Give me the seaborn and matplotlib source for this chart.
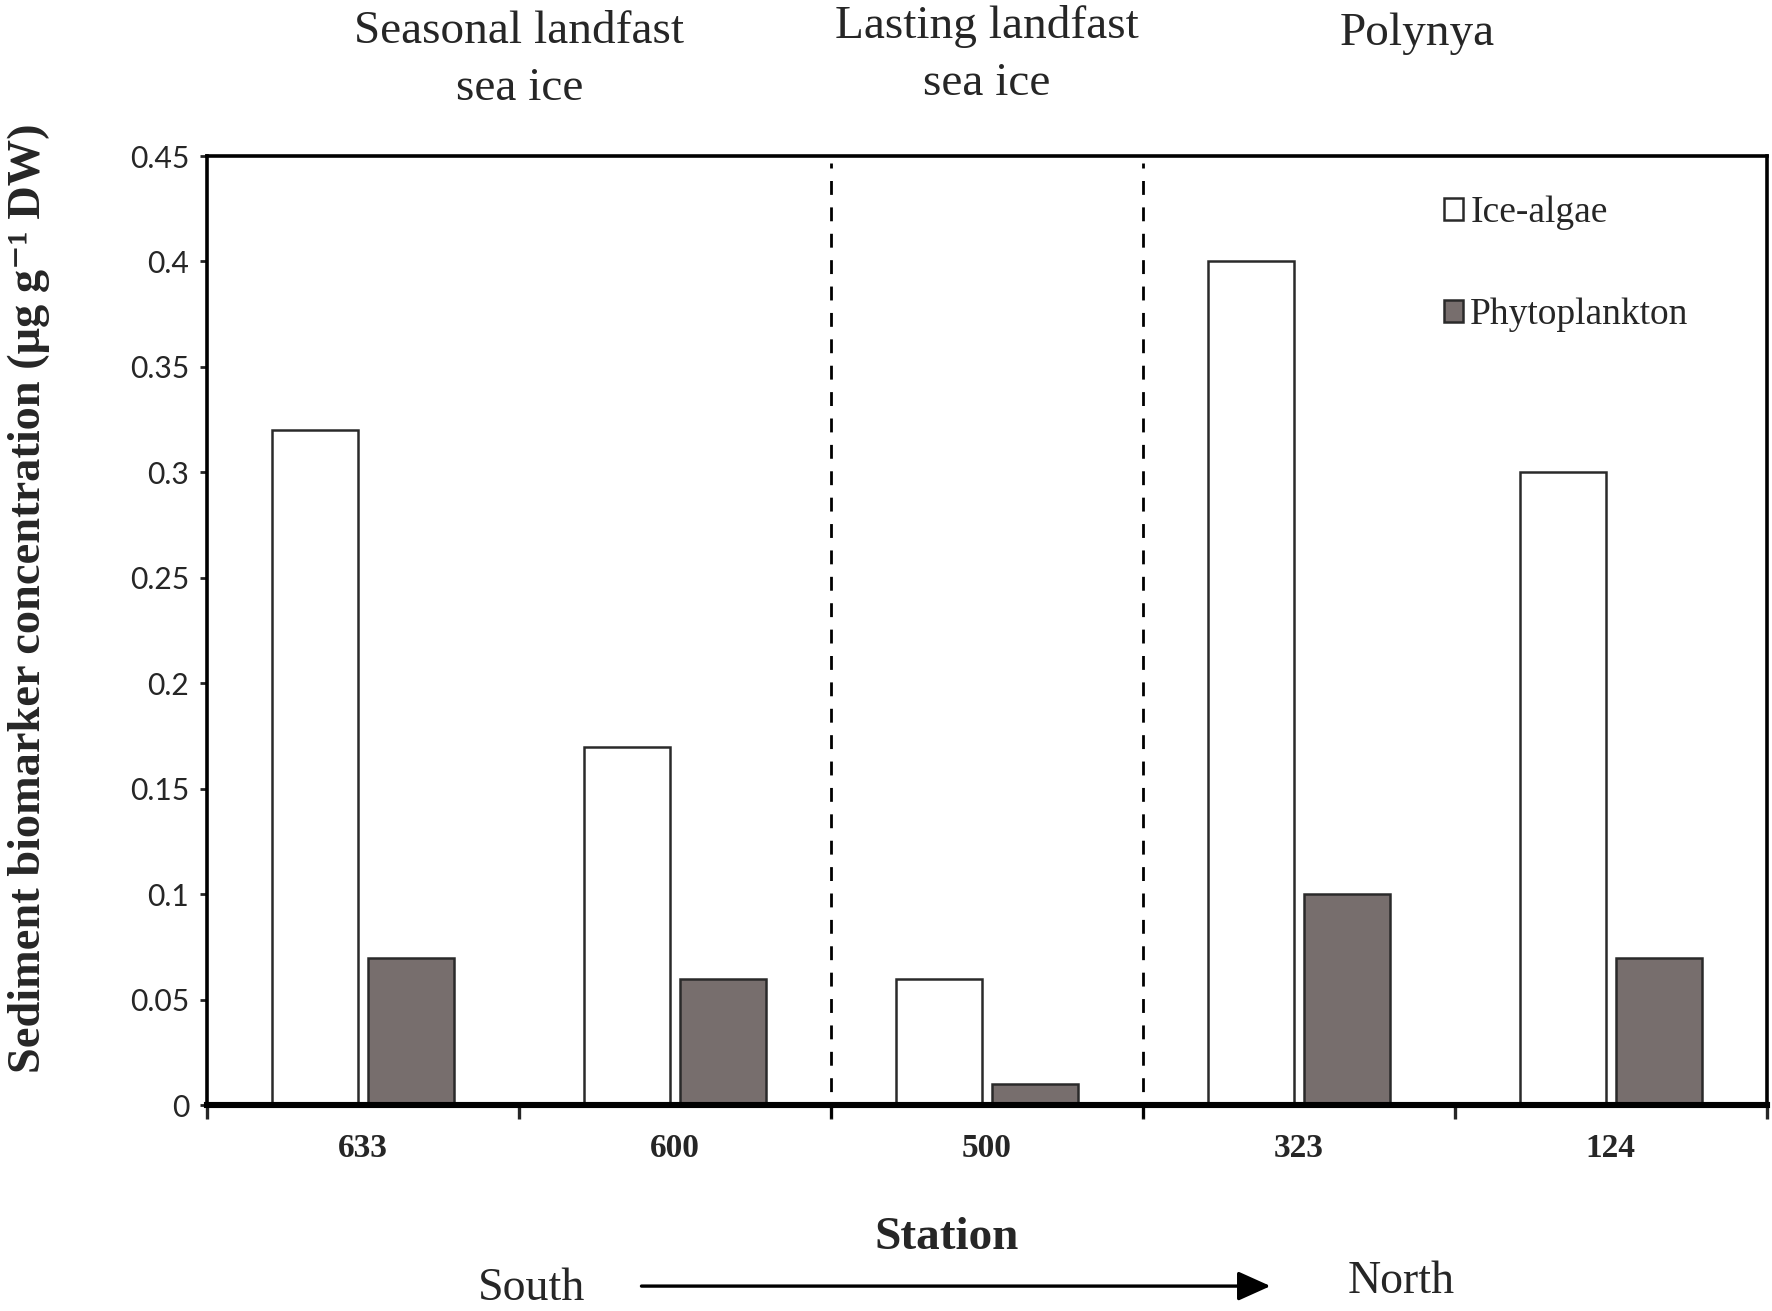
import pandas as pd
import matplotlib
matplotlib.use('Agg')
import matplotlib.pyplot as plt
import matplotlib.transforms as mtransforms
from matplotlib.patches import Patch
from matplotlib.ticker import FuncFormatter, FixedLocator
import seaborn as sns

# data
stations = ['633', '600', '500', '323', '124']
ice_algae = [0.32, 0.17, 0.06, 0.40, 0.30]
phytoplankton = [0.07, 0.06, 0.01, 0.10, 0.07]
zones = ['Seasonal landfast\nsea ice', 'Lasting landfast\nsea ice', 'Polynya']
zone_x = [0.5, 2.0, 3.38]
zone_y = [0.954, 0.958, 0.974]
zone_breaks = [1.5, 2.5]
yticks = [0, 0.05, 0.1, 0.15, 0.2, 0.25, 0.3, 0.35, 0.4, 0.45]

df = pd.DataFrame({
    'Station': stations * 2,
    'value': ice_algae + phytoplankton,
    'group': ['Ice-algae'] * len(stations) + ['Phytoplankton'] * len(stations),
})

colors = {'Ice-algae': 'white', 'Phytoplankton': '#776e6d'}
serif = ['Liberation Serif', 'DejaVu Serif']

sns.set_style('ticks')
plt.rcParams['font.family'] = serif

fig = plt.figure(figsize=(8.86, 6.555), dpi=200)
ax = fig.add_axes([0.117, 0.157, 0.88, 0.724])

sns.barplot(data=df, x='Station', y='value', hue='group', order=stations,
            palette=colors, saturation=1, width=0.616, gap=0.106,
            edgecolor='#2a2a2a', linewidth=0.9, ax=ax, legend=False)

ax.set_xlim(-0.5, 4.5)
ax.set_ylim(0, 0.45)
ax.set_xlabel('')
ax.set_ylabel('')

# y axis
ax.set_yticks(yticks)
ax.yaxis.set_major_formatter(FuncFormatter(lambda v, p: '%g' % v))
for lab in ax.get_yticklabels():
    lab.set_fontfamily(['Lato', 'DejaVu Sans'])
    lab.set_fontsize(10.8)
ax.tick_params(axis='y', direction='out', length=2.5, width=1, pad=4)

# x axis: labels at centres, ticks at the boundaries
ax.tick_params(axis='x', which='major', length=0, pad=10)
for lab in ax.get_xticklabels():
    lab.set_fontweight('bold')
    lab.set_fontsize(12)
ax.xaxis.set_minor_locator(FixedLocator([-0.5, 0.5, 1.5, 2.5, 3.5, 4.5]))
ax.tick_params(axis='x', which='minor', direction='out', length=5, width=1.2)

for side in ['top', 'left', 'right']:
    ax.spines[side].set_linewidth(1.3)
    ax.spines[side].set_color('black')
ax.spines['bottom'].set_linewidth(2.2)
ax.spines['bottom'].set_color('black')

# dashed separators between ice regimes
for xb in zone_breaks:
    ax.plot([xb, xb], [-0.006, 0.4465], color='black', lw=1.0,
            dashes=(5, 4.5), clip_on=False, zorder=3)

# legend
handles = [Patch(facecolor=colors[k], edgecolor='#2a2a2a', linewidth=0.9, label=k)
           for k in ['Ice-algae', 'Phytoplankton']]
ax.legend(handles=handles, loc='upper left', bbox_to_anchor=(0.793, 0.958),
          frameon=False, fontsize=13.5, handlelength=0.5, handleheight=0.55,
          handletextpad=0.2, labelspacing=1.8, borderpad=0, borderaxespad=0)

# zone labels above the plot
trans = mtransforms.blended_transform_factory(ax.transData, fig.transFigure)
for name, xz, yz in zip(zones, zone_x, zone_y):
    ax.text(xz, yz, name, transform=trans, ha='center', va='center',
            fontsize=17, linespacing=1.45, family=serif)

# axis titles
fig.text(0.016, 0.544, 'Sediment biomarker concentration (μg g⁻¹ DW)',
         rotation=90, ha='center', va='center', fontsize=16.7,
         fontweight='bold', family=serif)
fig.text(0.534, 0.056, 'Station', ha='center', va='center', fontsize=17,
         fontweight='bold', family=serif)

# south -> north arrow
fig.text(0.300, 0.017, 'South', ha='center', va='center', fontsize=16.5, family=serif)
fig.text(0.791, 0.022, 'North', ha='center', va='center', fontsize=16.5, family=serif)
ax.annotate('', xy=(0.717, 0.019), xytext=(0.362, 0.019),
            xycoords='figure fraction', textcoords='figure fraction',
            arrowprops=dict(arrowstyle='-|>,head_length=1.0,head_width=0.45',
                            lw=1.2, color='black', mutation_scale=10,
                            shrinkA=0, shrinkB=0))

fig.savefig('out.png', dpi=200)
